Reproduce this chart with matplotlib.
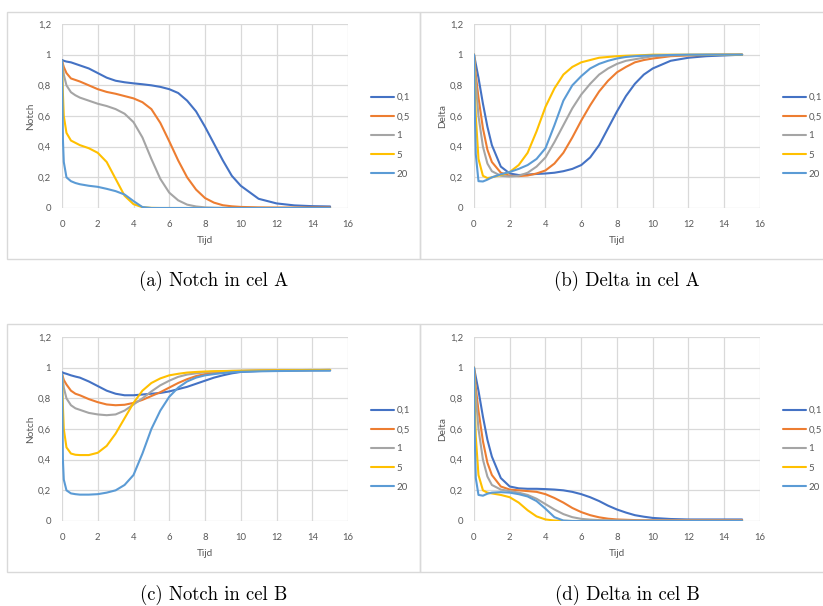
# Notch / Delta in cel A en B, vier panelen in Excel-stijl

import matplotlib.pyplot as plt
from matplotlib.patches import Rectangle

# tijdstippen (gemeenschappelijk voor alle reeksen)
tijd = [0, 0.05, 0.1, 0.25, 0.5, 0.75, 1, 1.5, 2, 2.5, 3, 3.5, 4, 4.5, 5,
        5.5, 6, 6.5, 7, 7.5, 8, 8.5, 9, 9.5, 10, 11, 12, 13, 14, 15]

reeks_labels = ['0,1', '0,5', '1', '5', '20']

# (a) Notch in cel A
notch_A_01 = [0.965, 0.963, 0.96, 0.955, 0.95, 0.94, 0.93, 0.91, 0.88, 0.85, 0.83, 0.82, 0.813, 0.807, 0.80,
              0.79, 0.775, 0.75, 0.70, 0.63, 0.53, 0.42, 0.31, 0.21, 0.145, 0.06, 0.03, 0.017, 0.012, 0.01]
notch_A_05 = [0.96, 0.94, 0.92, 0.88, 0.845, 0.835, 0.825, 0.80, 0.775, 0.757, 0.745, 0.73, 0.715, 0.69, 0.645,
              0.555, 0.435, 0.31, 0.20, 0.12, 0.065, 0.035, 0.018, 0.011, 0.007, 0.004, 0.003, 0.003, 0.003, 0.003]
notch_A_1 = [0.96, 0.92, 0.87, 0.80, 0.755, 0.735, 0.72, 0.70, 0.68, 0.665, 0.645, 0.615, 0.56, 0.46, 0.32,
             0.19, 0.10, 0.05, 0.022, 0.01, 0.004, 0.002, 0.001, 0, 0, 0, 0, 0, 0, 0]
notch_A_5 = [0.96, 0.75, 0.60, 0.49, 0.44, 0.425, 0.41, 0.39, 0.36, 0.30, 0.19, 0.08, 0.025, 0.005, 0.001,
             0, 0, 0, 0, 0, 0, 0, 0, 0, 0, 0, 0, 0, 0, 0]
notch_A_20 = [0.96, 0.45, 0.30, 0.20, 0.175, 0.163, 0.155, 0.145, 0.138, 0.125, 0.11, 0.088, 0.045, 0.006, 0,
              0, 0, 0, 0, 0, 0, 0, 0, 0, 0, 0, 0, 0, 0, 0]

# (b) Delta in cel A
delta_A_01 = [1.0, 0.97, 0.94, 0.85, 0.68, 0.53, 0.41, 0.27, 0.225, 0.215, 0.218, 0.222, 0.225, 0.23, 0.24,
              0.255, 0.28, 0.33, 0.41, 0.52, 0.63, 0.73, 0.81, 0.87, 0.91, 0.96, 0.98, 0.99, 0.995, 1.0]
delta_A_05 = [1.0, 0.93, 0.87, 0.72, 0.52, 0.38, 0.30, 0.23, 0.21, 0.208, 0.212, 0.225, 0.245, 0.29, 0.36,
              0.46, 0.57, 0.67, 0.76, 0.83, 0.885, 0.92, 0.95, 0.965, 0.975, 0.99, 0.995, 0.998, 1.0, 1.0]
delta_A_1 = [1.0, 0.90, 0.82, 0.60, 0.40, 0.29, 0.24, 0.21, 0.205, 0.21, 0.23, 0.27, 0.33, 0.43, 0.54,
             0.65, 0.74, 0.81, 0.87, 0.91, 0.94, 0.96, 0.97, 0.98, 0.99, 0.995, 0.998, 1.0, 1.0, 1.0]
delta_A_5 = [1.0, 0.78, 0.60, 0.32, 0.21, 0.195, 0.20, 0.215, 0.235, 0.28, 0.36, 0.50, 0.66, 0.78, 0.87,
             0.92, 0.95, 0.965, 0.98, 0.985, 0.99, 0.993, 0.995, 0.997, 1.0, 1.0, 1.0, 1.0, 1.0, 1.0]
delta_A_20 = [1.0, 0.60, 0.35, 0.175, 0.173, 0.185, 0.20, 0.22, 0.235, 0.255, 0.28, 0.32, 0.39, 0.54, 0.70,
              0.80, 0.86, 0.91, 0.94, 0.96, 0.975, 0.985, 0.99, 0.993, 0.995, 0.998, 1.0, 1.0, 1.0, 1.0]

# (c) Notch in cel B
notch_B_01 = [0.97, 0.968, 0.965, 0.96, 0.95, 0.942, 0.935, 0.91, 0.88, 0.85, 0.83, 0.82, 0.82, 0.825, 0.83,
              0.835, 0.845, 0.86, 0.875, 0.895, 0.915, 0.935, 0.95, 0.963, 0.972, 0.978, 0.981, 0.983, 0.984, 0.985]
notch_B_05 = [0.96, 0.94, 0.92, 0.89, 0.85, 0.83, 0.82, 0.795, 0.775, 0.76, 0.755, 0.758, 0.77, 0.79, 0.815,
              0.84, 0.87, 0.90, 0.925, 0.945, 0.958, 0.966, 0.972, 0.976, 0.978, 0.98, 0.982, 0.983, 0.984, 0.985]
notch_B_1 = [0.96, 0.92, 0.87, 0.80, 0.755, 0.735, 0.725, 0.705, 0.695, 0.69, 0.695, 0.72, 0.76, 0.80, 0.845,
             0.885, 0.915, 0.94, 0.955, 0.963, 0.97, 0.974, 0.977, 0.979, 0.98, 0.982, 0.983, 0.984, 0.985, 0.985]
notch_B_5 = [0.96, 0.75, 0.60, 0.48, 0.44, 0.432, 0.43, 0.43, 0.445, 0.49, 0.57, 0.67, 0.77, 0.85, 0.90,
             0.93, 0.95, 0.96, 0.968, 0.972, 0.975, 0.977, 0.978, 0.979, 0.98, 0.982, 0.983, 0.984, 0.985, 0.985]
notch_B_20 = [0.96, 0.40, 0.27, 0.20, 0.18, 0.175, 0.172, 0.172, 0.175, 0.185, 0.20, 0.235, 0.30, 0.44, 0.60,
              0.72, 0.81, 0.87, 0.91, 0.935, 0.95, 0.958, 0.965, 0.97, 0.973, 0.976, 0.978, 0.979, 0.98, 0.98]

# (d) Delta in cel B
delta_B_01 = [1.0, 0.97, 0.94, 0.85, 0.68, 0.53, 0.42, 0.28, 0.225, 0.213, 0.21, 0.21, 0.208, 0.205, 0.20,
              0.19, 0.175, 0.155, 0.13, 0.10, 0.075, 0.055, 0.038, 0.028, 0.02, 0.013, 0.01, 0.01, 0.01, 0.01]
delta_B_05 = [1.0, 0.93, 0.87, 0.72, 0.52, 0.38, 0.30, 0.225, 0.205, 0.20, 0.195, 0.19, 0.175, 0.15, 0.12,
              0.085, 0.058, 0.038, 0.024, 0.015, 0.01, 0.008, 0.006, 0.005, 0.005, 0.005, 0.005, 0.005, 0.005, 0.005]
delta_B_1 = [1.0, 0.90, 0.82, 0.60, 0.40, 0.29, 0.235, 0.205, 0.195, 0.185, 0.17, 0.145, 0.11, 0.075, 0.045,
             0.025, 0.014, 0.009, 0.006, 0.005, 0.004, 0.004, 0.003, 0.003, 0.003, 0.003, 0.003, 0.003, 0.003, 0.003]
delta_B_5 = [1.0, 0.75, 0.55, 0.30, 0.20, 0.185, 0.18, 0.17, 0.155, 0.12, 0.07, 0.03, 0.01, 0.003, 0.001,
             0, 0, 0, 0, 0, 0, 0, 0, 0, 0, 0, 0, 0, 0, 0]
delta_B_20 = [1.0, 0.50, 0.28, 0.17, 0.165, 0.178, 0.185, 0.188, 0.185, 0.175, 0.16, 0.13, 0.08, 0.025, 0.003,
              0, 0, 0, 0, 0, 0, 0, 0, 0, 0, 0, 0, 0, 0, 0]

panelen = [
    ('Notch', '(a) Notch in cel A', [notch_A_01, notch_A_05, notch_A_1, notch_A_5, notch_A_20]),
    ('Delta', '(b) Delta in cel A', [delta_A_01, delta_A_05, delta_A_1, delta_A_5, delta_A_20]),
    ('Notch', '(c) Notch in cel B', [notch_B_01, notch_B_05, notch_B_1, notch_B_5, notch_B_20]),
    ('Delta', '(d) Delta in cel B', [delta_B_01, delta_B_05, delta_B_1, delta_B_5, delta_B_20]),
]

kleuren = ['#4472C4', '#ED7D31', '#A5A5A5', '#FFC000', '#5B9BD5']
grijs = '#595959'
rand = '#D9D9D9'

W, H = 823, 606
fig = plt.figure(figsize=(W / 100, H / 100), dpi=100)
plt.rcParams['font.family'] = ['Lato', 'DejaVu Sans']

# pixelposities: (links, boven) van het plotgebied, plus kader
posities = [(62, 24), (474, 24), (62, 337), (474, 337)]
kaders = [(7, 12, 413, 247), (420, 12, 420, 247), (7, 324, 413, 248), (420, 324, 420, 248)]
bijschrift_pos = [(214, 281), (627, 281), (214, 595), (627, 595)]

for (ylab, titel, reeksen), (px, py), kader, (cx, cy) in zip(panelen, posities, kaders, bijschrift_pos):
    kx, ky, kw, kh = kader
    fig.patches.append(Rectangle((kx / W, 1 - (ky + kh) / H), kw / W, kh / H,
                                 transform=fig.transFigure, fill=False,
                                 edgecolor=rand, linewidth=1))

    ax = fig.add_axes([px / W, 1 - (py + 184) / H, 286 / W, 184 / H])
    for y, kleur, lab in zip(reeksen, kleuren, reeks_labels):
        ax.plot(tijd, y, color=kleur, linewidth=1.5, label=lab,
                solid_capstyle='round', solid_joinstyle='round')

    ax.set_xlim(0, 16)
    ax.set_ylim(0, 1.2)
    ax.set_xticks(range(0, 17, 2))
    ax.set_yticks([0, 0.2, 0.4, 0.6, 0.8, 1.0, 1.2])
    ax.set_yticklabels(['0', '0,2', '0,4', '0,6', '0,8', '1', '1,2'])
    ax.tick_params(length=0, labelsize=6.8, colors=grijs, pad=8)
    ax.tick_params(axis='x', pad=9)
    ax.grid(True, color=rand, linewidth=0.9)
    ax.set_axisbelow(True)
    for s in ax.spines.values():
        s.set_visible(False)
    ax.set_xlabel('Tijd', fontsize=7.2, color=grijs, labelpad=5)
    ax.set_ylabel(ylab, fontsize=7.2, color=grijs, labelpad=2)

    ax.legend(loc='upper left', bbox_to_anchor=((px + 309) / W, 1 - (py + 69) / H),
              bbox_transform=fig.transFigure, frameon=False, fontsize=7,
              labelcolor=grijs, handlelength=2.4, handletextpad=0.2,
              labelspacing=1.05, borderpad=0, borderaxespad=0)

    fig.text(cx / W, 1 - cy / H, titel, family='cmr10', fontsize=13.5,
             ha='center', va='center')

fig.savefig('out.png', dpi=100)
